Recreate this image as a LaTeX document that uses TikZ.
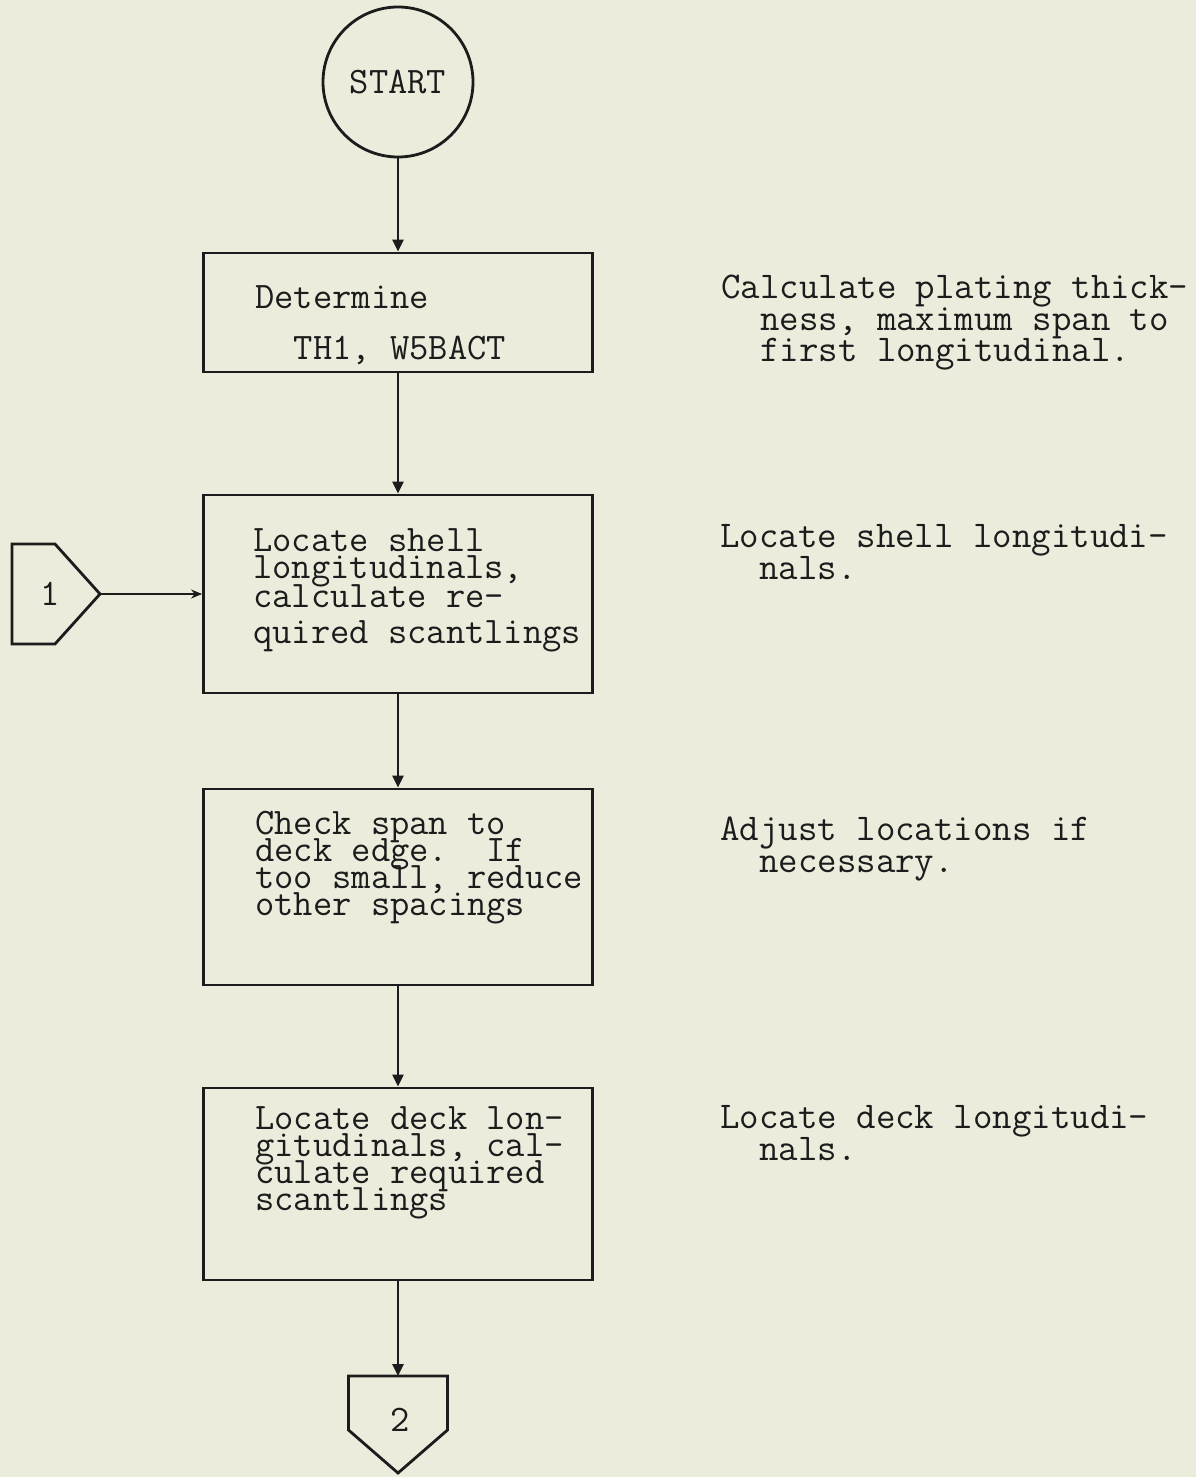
\documentclass[tikz,border=0pt]{standalone}
\usepackage{fontspec}
\usetikzlibrary{arrows.meta}
\definecolor{paper}{RGB}{236,236,221}
\definecolor{ink}{RGB}{28,28,28}
\setlength{\lineskiplimit}{-30pt}
\newcommand{\ind}{\phantom{nn}}
\tikzset{
  procbox/.style={draw=ink, line width=1.6pt, minimum width=7.78cm},
  typed/.style={text=ink, font=\fontsize{21.3pt}{15.3pt}\selectfont\ttfamily},
  boxtext/.style={typed, anchor=base west, align=left, inner sep=0pt},
  sidenote/.style={boxtext, font=\fontsize{21.5pt}{18.1pt}\selectfont\ttfamily},
  flow/.style={draw=ink, line width=1.5pt, -{Triangle[length=2.4mm,width=2.2mm]}},
  flowthin/.style={draw=ink, line width=0.9pt, -{Stealth[length=2.2mm,width=1.8mm]}},
  conn/.style={draw=ink, line width=1.6pt, line join=miter},
}
\begin{document}
\begin{tikzpicture}
    \fill[paper] (0,0) rectangle (23.92,-29.54);
    \useasboundingbox (0,0) rectangle (23.92,-29.54);

    % main column
    \node[typed, draw=ink, line width=1.6pt, circle, minimum size=3.0cm]
        (start) at (7.96,-1.64) {START};
    \node[procbox, minimum height=2.38cm] (thick) at (7.96,-6.25) {};
    \node[procbox, minimum height=3.96cm] (shell) at (7.96,-11.88) {};
    \node[procbox, minimum height=3.92cm] (span) at (7.96,-17.74) {};
    \node[procbox, minimum height=3.84cm] (deck) at (7.96,-23.68) {};

    % off-page connectors
    \draw[conn]
        (0.24,-10.88) -- (1.1,-10.88) -- (2.0,-11.88) -- (1.1,-12.88) --
        (0.24,-12.88) -- cycle;
    \node[typed] (con1) at (1.0,-11.88) {1};
    \coordinate (con1tip) at (2.0,-11.88);
    \draw[conn]
        (6.97,-27.52) -- (8.95,-27.52) -- (8.95,-28.6) -- (7.96,-29.46) --
        (6.97,-28.6) -- cycle;
    \node[typed] (con2) at (8.0,-28.4) {2};
    \coordinate (con2top) at (7.96,-27.52);

    \draw[flow] (start) -- (thick);
    \draw[flow] (thick) -- (shell);
    \draw[flow] (shell) -- (span);
    \draw[flow] (span) -- (deck);
    \draw[flow] (deck) -- (con2top);
    \draw[flowthin] (con1tip) -- (shell.west);

    % box texts (anchored at the last line)
    \node[boxtext] (thicktxt) at (5.1,-7.2)
        {Determine\\[0.5cm]\ind TH1, W5BACT};
    \node[boxtext] (shelltxt) at (5.06,-12.86)
        {Locate shell\\longitudinals,\\[0.04cm]calculate re-\\[0.18cm]quired scantlings};
    \node[boxtext] (spantxt) at (5.1,-18.3)
        {Check span to\\deck edge.~~If\\too small, reduce\\other spacings};
    \node[boxtext] (decktxt) at (5.1,-24.2)
        {Locate deck lon-\\gitudinals, cal-\\culate required\\scantlings};

    % notes on the right
    \node[sidenote] (thicknote) at (14.42,-7.24)
        {Calculate plating thick-\\\ind ness, maximum span to\\\ind first longitudinal.};
    \node[sidenote] (shellnote) at (14.4,-11.58)
        {Locate shell longitudi-\\\ind nals.};
    \node[sidenote] (spannote) at (14.4,-17.44)
        {Adjust locations if\\\ind necessary.};
    \node[sidenote] (decknote) at (14.4,-23.2)
        {Locate deck longitudi-\\\ind nals.};
\end{tikzpicture}
\end{document}
